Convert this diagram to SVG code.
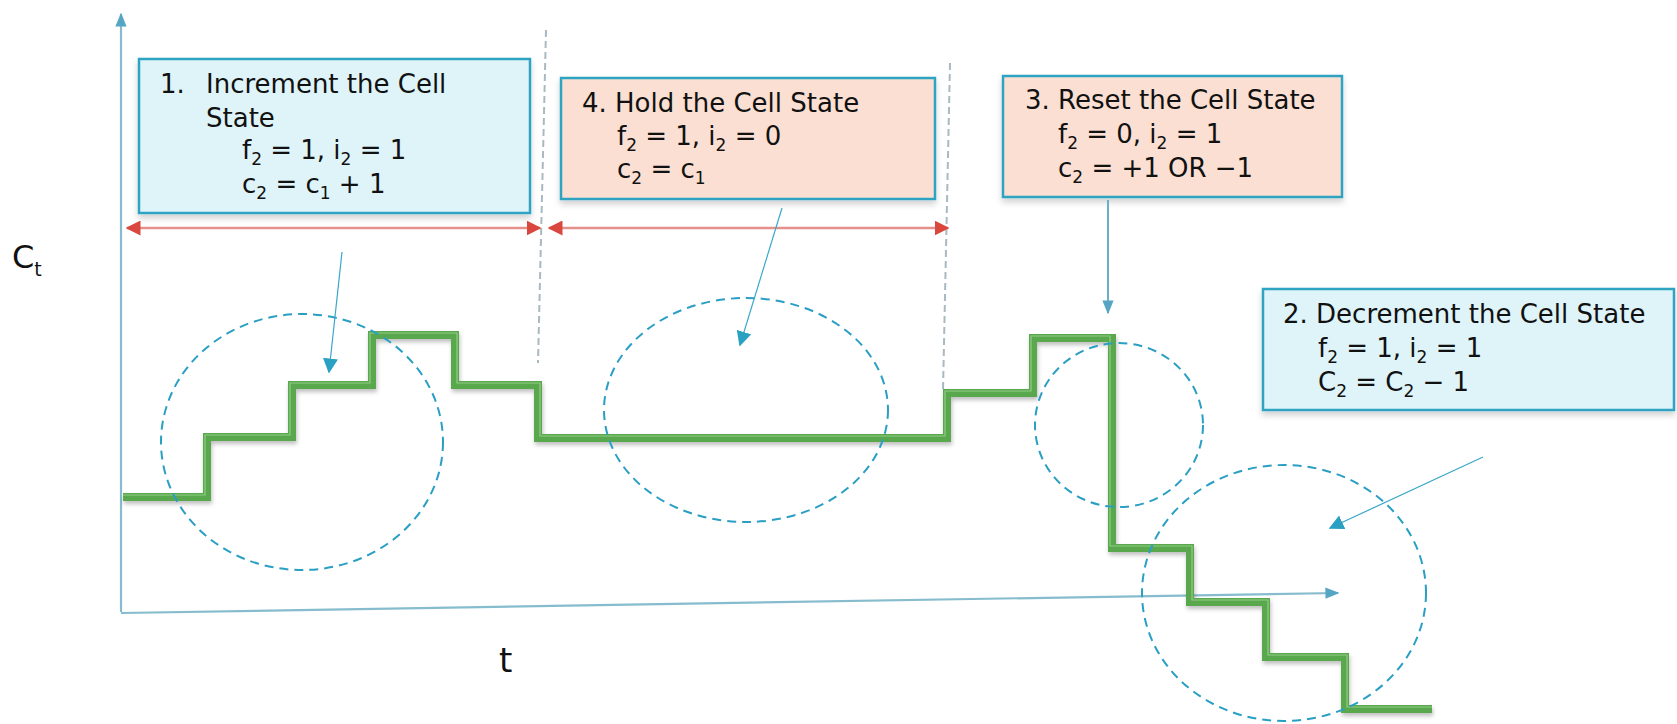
<svg xmlns="http://www.w3.org/2000/svg" width="1677" height="724" viewBox="0 0 1677 724">
<style>
.box{stroke:#2fa3c2;stroke-width:2.5}
.blue{fill:#def4f9}
.peach{fill:#fadfd2}
.txt{font-family:"DejaVu Sans",Verdana,sans-serif;font-size:26px;fill:#111}
.circ{fill:none;stroke:#2a9fc4;stroke-width:2;stroke-dasharray:9 6}
.vdash{fill:none;stroke:#a9b9c2;stroke-width:2;stroke-dasharray:7 4}
.axis{fill:none;stroke:#86bccd;stroke-width:2.2}
.red{fill:none;stroke:#e4918c;stroke-width:2.5}
.ptr{fill:none;stroke:#3aa7c9;stroke-width:1.2}
.step{fill:none;stroke:#5aa84e;stroke-width:8;stroke-linejoin:miter}
.stepHi{fill:none;stroke:#9fd492;stroke-width:1.2;opacity:0.8}
</style>
<defs>
<filter id="sh" x="-10%" y="-10%" width="120%" height="130%">
<feDropShadow dx="0" dy="4" stdDeviation="3" flood-color="#000" flood-opacity="0.18"/>
</filter>
<filter id="gsh" x="-5%" y="-5%" width="110%" height="115%">
<feDropShadow dx="1" dy="3" stdDeviation="2" flood-color="#000" flood-opacity="0.25"/>
</filter>
<marker id="redA" viewBox="0 0 10 10" refX="9" refY="5" markerWidth="6" markerHeight="6" orient="auto-start-reverse" markerUnits="strokeWidth">
<path d="M0,0 L10,5 L0,10 z" fill="#d9473e"/>
</marker>
<marker id="blueA" viewBox="0 0 10 10" refX="9" refY="5" markerWidth="15" markerHeight="15" orient="auto" markerUnits="userSpaceOnUse">
<path d="M0,0 L10,5 L0,10 z" fill="#2aa0c2"/>
</marker>
<marker id="axA" viewBox="0 0 10 10" refX="9" refY="5" markerWidth="14" markerHeight="14" orient="auto" markerUnits="userSpaceOnUse">
<path d="M0,1 L10,5 L0,9 z" fill="#55a6c4"/>
</marker>
</defs>

<g id="axes">
<line class="axis" x1="121" y1="612" x2="121" y2="14" marker-end="url(#axA)"/>
<line class="axis" x1="121" y1="613" x2="1338" y2="593" marker-end="url(#axA)"/>
<text class="txt" x="12" y="268" style="font-size:32px">C<tspan font-size="19" dy="8">t</tspan></text>
<text class="txt" x="499" y="672" style="font-size:34px">t</text>
</g>

<g id="dividers">
<line class="vdash" x1="546" y1="30" x2="538" y2="363"/>
<line class="vdash" x1="950" y1="63" x2="943" y2="390"/>
</g>

<g id="signal" filter="url(#gsh)">
<path class="step" d="M123,497 H207 V437 H292 V385 H372 V335 H455 V385 H538 V438 H947 V393 H1033 V338 H1112 V548 H1190 V602 H1266 V657 H1345 V709 H1432"/>
<path class="stepHi" d="M123,495 H205 V435 H290 V383 H370 V333 H457 V383 H540 V436 H945 V391 H1031 V336 H1110 V546 H1192 V600 H1268 V655 H1347 V707 H1432"/>
</g>

<g id="circles">
<ellipse class="circ" cx="302" cy="442" rx="141" ry="128"/>
<ellipse class="circ" cx="746" cy="410" rx="142" ry="112"/>
<ellipse class="circ" cx="1119" cy="425" rx="84" ry="82"/>
<ellipse class="circ" cx="1284" cy="593" rx="142" ry="128"/>
</g>

<g id="node-increment">
<rect class="box blue" x="139" y="59" width="391" height="154" filter="url(#sh)"/>
<text class="txt" x="160" y="93">1.</text>
<text class="txt" x="206" y="93">Increment the Cell</text>
<text class="txt" x="206" y="127">State</text>
<text class="txt" x="242" y="159">f<tspan font-size="17" dy="6">2</tspan><tspan dy="-6"> = 1, i</tspan><tspan font-size="17" dy="6">2</tspan><tspan dy="-6"> = 1</tspan></text>
<text class="txt" x="242" y="193">c<tspan font-size="17" dy="6">2</tspan><tspan dy="-6"> = c</tspan><tspan font-size="17" dy="6">1</tspan><tspan dy="-6"> + 1</tspan></text>
</g>

<g id="node-hold">
<rect class="box peach" x="561" y="78" width="374" height="121" filter="url(#sh)"/>
<text class="txt" x="582" y="112">4. Hold the Cell State</text>
<text class="txt" x="617" y="145">f<tspan font-size="17" dy="6">2</tspan><tspan dy="-6"> = 1, i</tspan><tspan font-size="17" dy="6">2</tspan><tspan dy="-6"> = 0</tspan></text>
<text class="txt" x="617" y="178">c<tspan font-size="17" dy="6">2</tspan><tspan dy="-6"> = c</tspan><tspan font-size="17" dy="6">1</tspan></text>
</g>

<g id="node-reset">
<rect class="box peach" x="1003" y="76" width="339" height="121" filter="url(#sh)"/>
<text class="txt" x="1025" y="109">3. Reset the Cell State</text>
<text class="txt" x="1058" y="143">f<tspan font-size="17" dy="6">2</tspan><tspan dy="-6"> = 0, i</tspan><tspan font-size="17" dy="6">2</tspan><tspan dy="-6"> = 1</tspan></text>
<text class="txt" x="1058" y="177">c<tspan font-size="17" dy="6">2</tspan><tspan dy="-6"> = +1 OR −1</tspan></text>
</g>

<g id="node-decrement">
<rect class="box blue" x="1263" y="289" width="411" height="121" filter="url(#sh)"/>
<text class="txt" x="1283" y="323">2. Decrement the Cell State</text>
<text class="txt" x="1318" y="357">f<tspan font-size="17" dy="6">2</tspan><tspan dy="-6"> = 1, i</tspan><tspan font-size="17" dy="6">2</tspan><tspan dy="-6"> = 1</tspan></text>
<text class="txt" x="1318" y="391">C<tspan font-size="17" dy="6">2</tspan><tspan dy="-6"> = C</tspan><tspan font-size="17" dy="6">2</tspan><tspan dy="-6"> − 1</tspan></text>
</g>

<g id="connectors">
<line class="red" x1="127" y1="228" x2="540" y2="228" marker-start="url(#redA)" marker-end="url(#redA)"/>
<line class="red" x1="549" y1="228" x2="948" y2="228" marker-start="url(#redA)" marker-end="url(#redA)"/>
<line class="ptr" x1="342" y1="252" x2="329" y2="372" marker-end="url(#blueA)"/>
<line class="ptr" x1="782" y1="208" x2="740" y2="345" marker-end="url(#blueA)"/>
<line class="ptr" x1="1483" y1="457" x2="1330" y2="528" marker-end="url(#blueA)"/>
<line x1="1108" y1="200" x2="1108" y2="313" stroke="#6aaecb" stroke-width="2" marker-end="url(#axA)"/>
</g>
</svg>
